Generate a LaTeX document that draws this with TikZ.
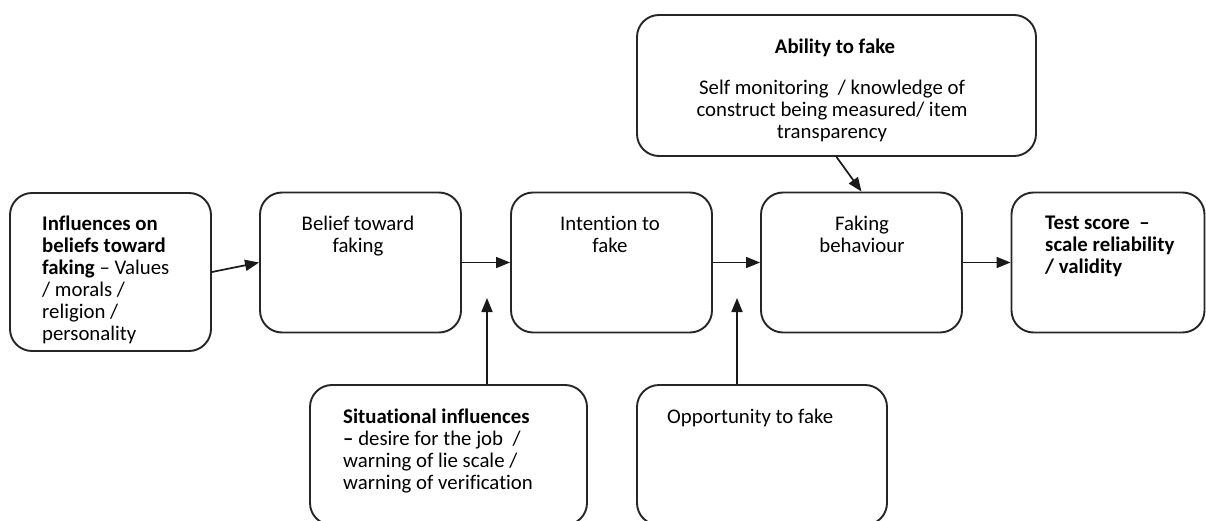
\documentclass[tikz,border=0pt]{standalone}
\usepackage{fontspec}
\setmainfont{Carlito}[Ligatures={NoCommon,NoRare}]
\usetikzlibrary{arrows.meta,calc}
\begin{document}
\begin{tikzpicture}[x=1pt,y=-1pt,
  stage/.style={draw=black!85,line width=1.9pt,rounded corners=22pt,rectangle,
    inner sep=0pt,fill=white},
  lbl/.style={inner sep=0pt,font=\fontsize{20.8}{22}\selectfont,text=black},
  arr/.style={line width=1.7pt,draw=black!90,-{Triangle[length=14pt,width=11pt]}}]
\useasboundingbox (0,0) rectangle (1206,521);
\clip (0,0) rectangle (1206,521);

% main chain of stages
\node[stage,minimum width=201pt,minimum height=158pt] (b1) at (110.5,272) {};
\node[stage,minimum width=201pt,minimum height=140pt] (b2) at (360.5,262.5) {};
\node[stage,minimum width=201pt,minimum height=140pt] (b3) at (611.5,262.5) {};
\node[stage,minimum width=201pt,minimum height=140pt] (b4) at (861.5,262.5) {};
\node[stage,minimum width=193pt,minimum height=140pt] (b5) at (1108,262.5) {};

% moderating factors
\node[stage,minimum width=399pt,minimum height=141pt] (ab) at (836.5,85.5) {};
\node[stage,minimum width=277pt,minimum height=140pt] (si) at (448.5,455) {};
\node[stage,minimum width=250pt,minimum height=140pt] (op) at (762,455) {};

% texts
\node[lbl,anchor=north west,align=left] (t1) at (42,216)
  {\textbf{Influences on}\\\textbf{beliefs toward}\\\textbf{faking} – Values\\/ morals /\\religion /\\personality};
\node[lbl,anchor=north,align=center] (t2) at (358,216) {Belief toward\\faking};
\node[lbl,anchor=north,align=center] (t3) at (610,216) {Intention to\\fake};
\node[lbl,anchor=north,align=center] (t4) at (862,216) {Faking\\behaviour};
\node[lbl,anchor=north west,align=left,font=\fontsize{20.8}{22}\selectfont\bfseries] (t5) at (1045,216)
  {Test score~ –\\scale reliability\\/ validity};
\node[lbl,anchor=north,align=center] (t6) at (835,39) {\textbf{Ability to fake}};
\node[lbl,anchor=north,align=center] (t7) at (832,80)
  {Self monitoring~ / knowledge of\\construct being measured/ item\\transparency};
\node[lbl,anchor=north west,align=left] (t8) at (343,409)
  {\textbf{Situational influences}\\\textbf{–} desire for the job~ /\\warning of lie scale /\\warning of verification};
\node[lbl,anchor=north west,align=left] (t9) at (667,409) {Opportunity to fake};

% connectors
\coordinate (s1) at (487,298);
\coordinate (o1) at (737,298);
\draw[arr] (b1.east) -- (b2.west);
\draw[arr] (b2.east) -- (b3.west);
\draw[arr] (b3.east) -- (b4.west);
\draw[arr] (b4.east) -- (b5.west);
\draw[arr] (ab.south) -- (b4.north);
\draw[arr] (si.north -| s1) -- (s1);
\draw[arr] (op.north -| o1) -- (o1);
\end{tikzpicture}
\end{document}
